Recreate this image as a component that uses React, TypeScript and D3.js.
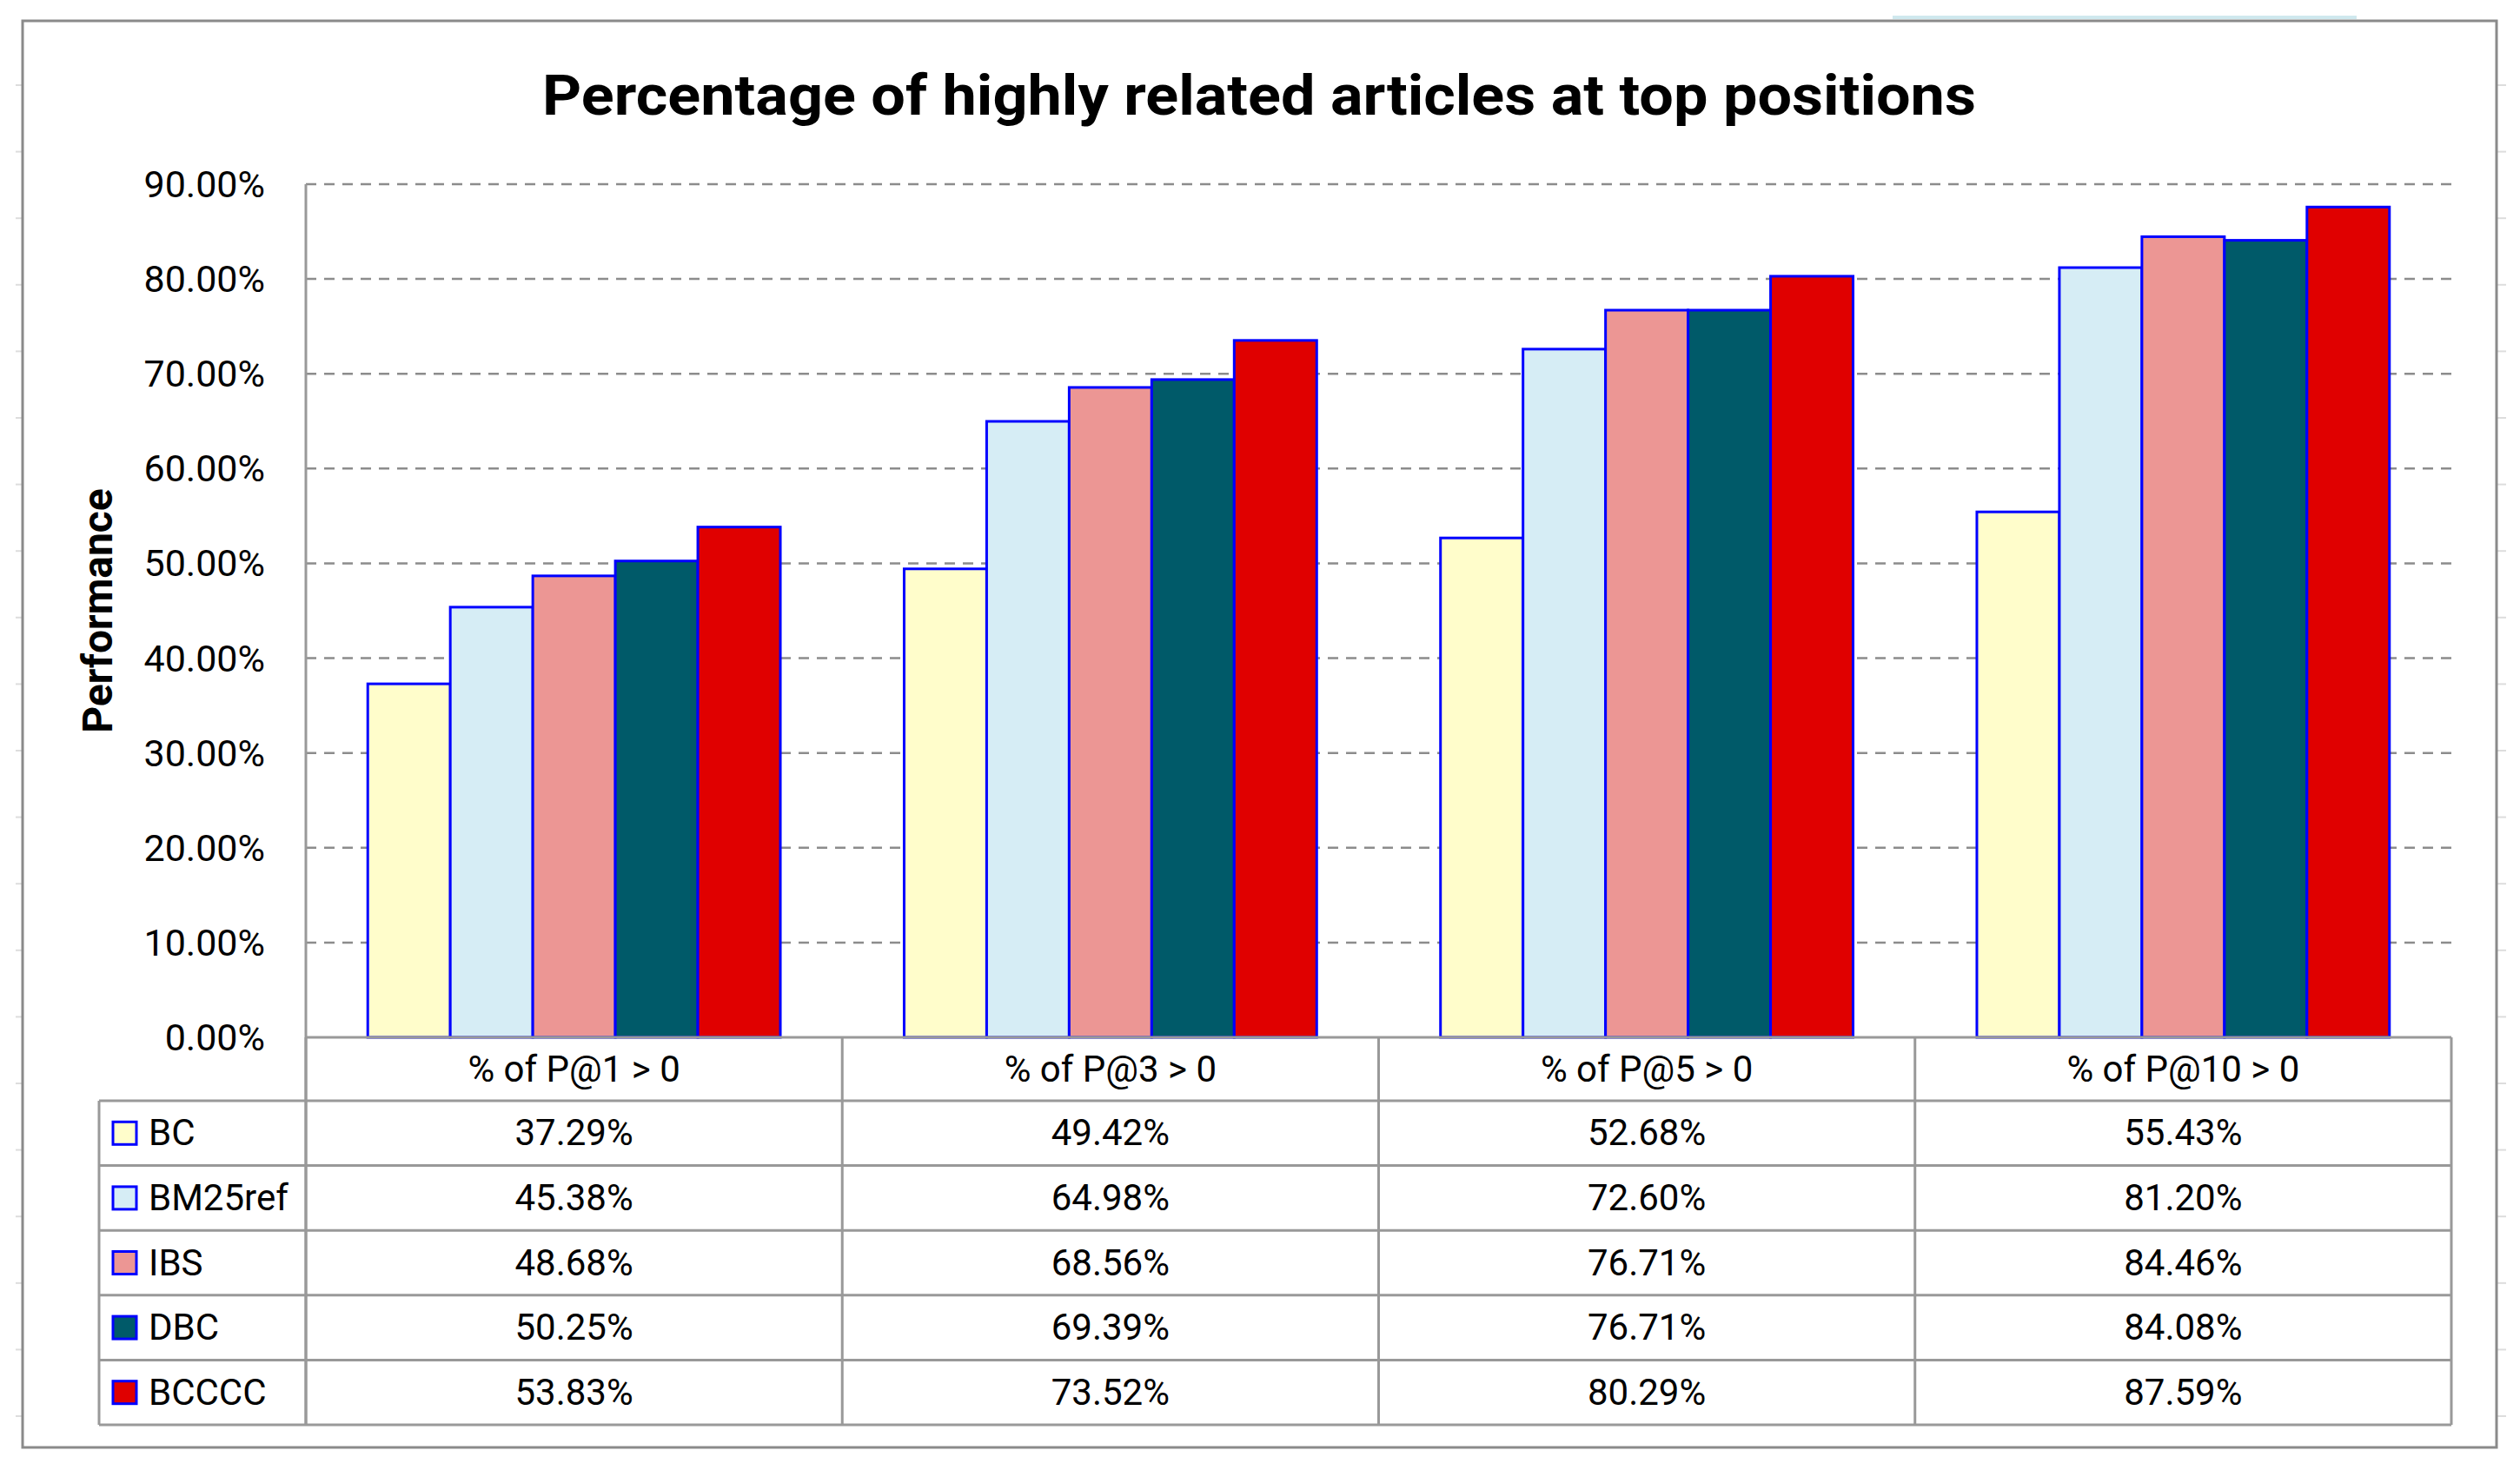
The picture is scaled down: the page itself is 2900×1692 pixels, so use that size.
import React from "react";
import * as d3 from "d3";

const title = "Percentage of highly related articles at top positions";
const yAxisTitle = "Performance";
const categories = ["% of P@1 > 0", "% of P@3 > 0", "% of P@5 > 0", "% of P@10 > 0"];
const seriesNames = ["BC", "BM25ref", "IBS", "DBC", "BCCCC"];
const bcValues = [37.29, 49.42, 52.68, 55.43];
const bm25refValues = [45.38, 64.98, 72.6, 81.2];
const ibsValues = [48.68, 68.56, 76.71, 84.46];
const dbcValues = [50.25, 69.39, 76.71, 84.08];
const bccccValues = [53.83, 73.52, 80.29, 87.59];
const seriesColors = ["#FFFDCB", "#D6EDF5", "#EC9694", "#005A69", "#E00000"];
const yTicks = [0, 10, 20, 30, 40, 50, 60, 70, 80, 90];

const seriesValues = [bcValues, bm25refValues, ibsValues, dbcValues, bccccValues];

const W = 2900;
const H = 1692;
const FONT = "Roboto, 'Liberation Sans', Arial, sans-serif";
const GRID = "#8c8c8c";
const TABLE = "#999999";

export default function App() {
  const plotLeft = 352;
  const plotRight = 2821;
  const plotTop = 212;
  const plotBottom = 1194;
  const legendLeft = 114;
  const tableTop = 1194;
  const headerBottom = 1267;
  const tableBottom = 1640;

  const y = d3.scaleLinear().domain([0, 90]).range([plotBottom, plotTop]);
  const x = d3.scaleBand<string>().domain(categories).range([plotLeft, plotRight]).padding(0);
  const xs = d3
    .scaleBand<string>()
    .domain(seriesNames)
    .range([0, x.bandwidth()])
    .paddingInner(0)
    .paddingOuter(0.75);
  const rowY = d3.scaleBand<string>().domain(seriesNames).range([headerBottom, tableBottom]);
  const fmt = (v: number) => d3.format(".2f")(v) + "%";

  const colEdges = categories.map((c) => x(c) as number).concat([plotRight]);
  const sideTicks = d3.range(0, 21).map((k) => 98 + k * 76.6).filter((v) => v < 1660);

  return (
    <svg
      width={W}
      height={H}
      viewBox={`0 0 ${W} ${H}`}
      style={{ position: "absolute", left: 0, top: 0, display: "block", background: "#fff" }}
    >
      <rect x={0} y={0} width={W} height={H} fill="#fff" />
      {/* sheet artifacts */}
      <line x1={2178} x2={2712} y1={20} y2={20} stroke="#cfe8ee" strokeWidth={4} />
      {sideTicks.map((t, i) => (
        <g key={"st" + i}>
          <line x1={18} x2={26} y1={t} y2={t} stroke="#dddddd" strokeWidth={2} />
          <line x1={2874} x2={2884} y1={t} y2={t} stroke="#dddddd" strokeWidth={2} />
        </g>
      ))}
      {/* outer frame */}
      <rect x={26} y={24} width={2847} height={1642} fill="#fff" stroke="#8a8a8a" strokeWidth={3} />

      {/* title */}
      <text
        x={1449}
        y={132}
        textAnchor="middle"
        fontFamily={FONT}
        fontWeight="bold"
        fontSize={64}
        fill="#000"
        textLength={1650}
        lengthAdjust="spacingAndGlyphs"
      >
        {title}
      </text>

      {/* gridlines */}
      {yTicks
        .filter((t) => t > 0)
        .map((t) => (
          <line
            key={"g" + t}
            x1={plotLeft}
            x2={plotRight}
            y1={y(t)}
            y2={y(t)}
            stroke={GRID}
            strokeWidth={2.5}
            strokeDasharray="12 9"
          />
        ))}

      {/* y tick labels */}
      {yTicks.map((t) => (
        <text
          key={"yl" + t}
          x={305}
          y={y(t) + 15}
          textAnchor="end"
          fontFamily={FONT}
          fontSize={43}
          fill="#000"
        >
          {fmt(t)}
        </text>
      ))}

      {/* y axis title */}
      <text
        transform={`translate(129, ${(plotTop + plotBottom) / 2}) rotate(-90)`}
        textAnchor="middle"
        fontFamily={FONT}
        fontWeight="bold"
        fontSize={48}
        fill="#000"
      >
        {yAxisTitle}
      </text>

      {/* bars */}
      {categories.map((c, ci) => (
        <g key={"cat" + ci} transform={`translate(${x(c)},0)`}>
          {seriesNames.map((s, si) => {
            const v = seriesValues[si][ci];
            return (
              <rect
                key={s}
                x={xs(s)}
                y={y(v)}
                width={xs.bandwidth()}
                height={y(0) - y(v)}
                fill={seriesColors[si]}
                stroke="#0000FF"
                strokeWidth={3}
              />
            );
          })}
        </g>
      ))}

      {/* y axis line */}
      <line x1={plotLeft} x2={plotLeft} y1={plotTop} y2={tableBottom} stroke={TABLE} strokeWidth={3} />

      {/* data table */}
      <g fill="none" stroke={TABLE} strokeWidth={3}>
        <line x1={plotLeft} x2={plotRight} y1={tableTop} y2={tableTop} />
        <line x1={legendLeft} x2={plotRight} y1={headerBottom} y2={headerBottom} />
        {seriesNames.map((s) => (
          <line
            key={"rl" + s}
            x1={legendLeft}
            x2={plotRight}
            y1={(rowY(s) as number) + rowY.bandwidth()}
            y2={(rowY(s) as number) + rowY.bandwidth()}
          />
        ))}
        <line x1={legendLeft} x2={legendLeft} y1={headerBottom} y2={tableBottom} />
        {colEdges.map((e, i) => (
          <line key={"ce" + i} x1={e} x2={e} y1={tableTop} y2={tableBottom} />
        ))}
      </g>

      {/* header labels */}
      {categories.map((c) => (
        <text
          key={"h" + c}
          x={(x(c) as number) + x.bandwidth() / 2}
          y={(tableTop + headerBottom) / 2 + 14}
          textAnchor="middle"
          fontFamily={FONT}
          fontSize={42}
          fill="#000"
        >
          {c}
        </text>
      ))}

      {/* legend rows & values */}
      {seriesNames.map((s, si) => {
        const cy = (rowY(s) as number) + rowY.bandwidth() / 2;
        return (
          <g key={"row" + s}>
            <rect
              x={130}
              y={cy - 13}
              width={27}
              height={26}
              fill={seriesColors[si]}
              stroke="#0000FF"
              strokeWidth={3}
            />
            <text x={171} y={cy + 14} fontFamily={FONT} fontSize={42} fill="#000">
              {s}
            </text>
            {categories.map((c, ci) => (
              <text
                key={"v" + ci}
                x={(x(c) as number) + x.bandwidth() / 2}
                y={cy + 14}
                textAnchor="middle"
                fontFamily={FONT}
                fontSize={42}
                fill="#000"
              >
                {fmt(seriesValues[si][ci])}
              </text>
            ))}
          </g>
        );
      })}
    </svg>
  );
}
